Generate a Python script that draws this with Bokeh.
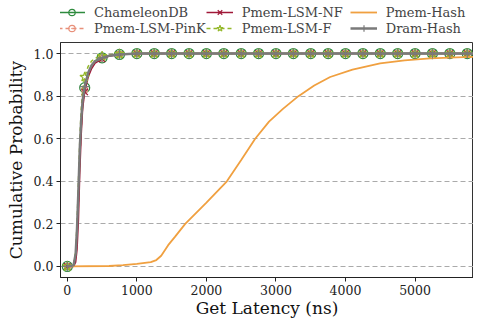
from bokeh.plotting import figure
from bokeh.models import Legend, LegendItem, FixedTicker, NumeralTickFormatter, Range1d
from bokeh.layouts import column
from bokeh.embed import file_html
from bokeh.resources import INLINE

# ---- data ----
lat = [0, 90, 120, 140, 160, 180, 200, 220, 250, 300, 350, 400, 500, 600, 750, 1000, 6000]
chameleon = [0, 0.005, 0.05, 0.15, 0.32, 0.52, 0.66, 0.76, 0.84, 0.91, 0.945, 0.965, 0.98, 0.99, 0.996, 1.0, 1.0]
pink = [0, 0.005, 0.04, 0.13, 0.3, 0.5, 0.65, 0.75, 0.83, 0.905, 0.94, 0.96, 0.978, 0.99, 0.996, 1.0, 1.0]
nf = [0, 0.0, 0.02, 0.08, 0.22, 0.45, 0.62, 0.74, 0.82, 0.89, 0.93, 0.955, 0.975, 0.988, 0.995, 1.0, 1.0]
f = [0, 0.01, 0.07, 0.2, 0.4, 0.6, 0.74, 0.83, 0.89, 0.94, 0.965, 0.978, 0.988, 0.994, 0.998, 1.0, 1.0]
dram = [0, 0.005, 0.06, 0.18, 0.36, 0.56, 0.69, 0.78, 0.845, 0.91, 0.945, 0.965, 0.98, 0.99, 0.996, 1.0, 1.0]

hash_lat = [0, 600, 800, 1000, 1200, 1280, 1350, 1450, 1550, 1695, 2000, 2294, 2500, 2701, 2900,
            3100, 3323, 3550, 3779, 4100, 4497, 4850, 5216, 5600, 6000]
pmem_hash = [0, 0.002, 0.006, 0.012, 0.02, 0.03, 0.05, 0.1, 0.14, 0.2, 0.3, 0.4, 0.5, 0.6, 0.68,
             0.74, 0.8, 0.85, 0.89, 0.925, 0.954, 0.968, 0.977, 0.982, 0.986]

mark_lat = [0, 250, 500, 750, 1000, 1250, 1500, 1750, 2000, 2250, 2500, 2750, 3000, 3250, 3500,
            3750, 4000, 4250, 4500, 4750, 5000, 5250, 5500, 5750, 6000]
mark_cham = [0, 0.84, 0.98, 0.996] + [1.0] * 21
mark_pink = [0, 0.83, 0.978, 0.996] + [1.0] * 21
mark_nf = [0, 0.82, 0.975, 0.995] + [1.0] * 21
mark_f = [0, 0.89, 0.988, 0.998] + [1.0] * 21
mark_dram = [0, 0.845, 0.98, 0.996] + [1.0] * 21

x_ticks = [0, 1000, 2000, 3000, 4000, 5000]
y_ticks = [0.0, 0.2, 0.4, 0.6, 0.8, 1.0]

FONT = "DejaVu Serif"

# styles: name, color, dash, line width, marker, marker size
styles = [
    ("ChameleonDB", "#2e8b3e", "solid", 1.5, "circle", 10),
    ("Pmem-LSM-PinK", "#e8907a", "4 3", 1.5, "circle_dot", 6),
    ("Pmem-LSM-NF", "#a01838", "solid", 1.5, "x", 9),
    ("Pmem-LSM-F", "#94b82a", "4 3", 1.5, "star", 10),
    ("Pmem-Hash", "#f0a040", "solid", 1.8, None, 0),
    ("Dram-Hash", "#7a7a7a", "solid", 2.5, "cross", 10),
]
line_x = [lat, lat, lat, lat, hash_lat, lat]
line_y = [chameleon, pink, nf, f, pmem_hash, dram]
mark_y = [mark_cham, mark_pink, mark_nf, mark_f, None, mark_dram]

# ---- main plot ----
p = figure(width=473, height=279, output_backend="svg", toolbar_location=None,
           x_range=Range1d(-98, 5840), y_range=Range1d(-0.052, 1.052),
           min_border_left=60, min_border_right=0, min_border_top=1, min_border_bottom=37)

for (name, color, dash, lw, marker, ms), xs, ys, my in zip(styles, line_x, line_y, mark_y):
    p.line(xs, ys, line_color=color, line_width=lw, line_dash=dash)
    if marker is not None:
        p.scatter(mark_lat, my, marker=marker, size=ms, line_color=color, line_width=1.2,
                  fill_color=color, fill_alpha=0.0)

p.xaxis.ticker = FixedTicker(ticks=x_ticks)
p.yaxis.ticker = FixedTicker(ticks=y_ticks)
p.yaxis.formatter = NumeralTickFormatter(format="0.0")
p.xaxis.axis_label = "Get Latency (ns)"
p.yaxis.axis_label = "Cumulative Probability"
for ax in (p.xaxis, p.yaxis):
    ax.axis_label_text_font = FONT
    ax.axis_label_text_font_style = "normal"
    ax.major_label_text_font = FONT
    ax.major_label_text_font_size = "12.5px"
    ax.major_label_text_color = "#222222"
    ax.axis_label_text_color = "#111111"
    ax.minor_tick_line_color = None
    ax.major_tick_in = 0
    ax.major_tick_out = 4
    ax.major_label_standoff = 3
    ax.axis_line_color = "#222222"
    ax.major_tick_line_color = "#222222"
p.xaxis.axis_label_text_font_size = "17px"
p.yaxis.axis_label_text_font_size = "17px"
p.xaxis.axis_label_standoff = 0
p.yaxis.axis_label_standoff = 5

p.xgrid.grid_line_color = None
p.ygrid.grid_line_color = "#aaaaaa"
p.ygrid.grid_line_dash = "5 3"
p.ygrid.grid_line_width = 1
p.outline_line_color = "#333333"
p.outline_line_width = 1

# ---- legend strip (key renderers sit outside its visible range) ----
lg = figure(width=473, height=41, output_backend="svg", toolbar_location=None,
            x_range=Range1d(0, 1), y_range=Range1d(0, 1),
            x_axis_location=None, y_axis_location=None,
            min_border_left=0, min_border_right=0, min_border_top=0, min_border_bottom=0)
lg.xgrid.grid_line_color = None
lg.ygrid.grid_line_color = None
lg.outline_line_color = None
items = []
for name, color, dash, lw, marker, ms in styles:
    rs = [lg.line([-5, -4], [-5, -4], line_color=color, line_width=lw, line_dash=dash)]
    if marker is not None:
        rs.append(lg.scatter([-5], [-5], marker=marker, size=ms, line_color=color, line_width=1.2,
                             fill_color=color, fill_alpha=0.0))
    items.append(LegendItem(label=name, renderers=rs))

legend = Legend(items=items, orientation="vertical", ncols=3, location=(-2, 5),
                border_line_color=None, background_fill_alpha=0,
                label_text_font=FONT, label_text_font_size="13px", label_standoff=9,
                glyph_width=27, glyph_height=16, label_height=16, label_width=108,
                spacing=0, padding=0, margin=0)
lg.add_layout(legend, "center")

layout = column(lg, p, spacing=0)
open("out.html", "w").write(file_html(layout, INLINE))
